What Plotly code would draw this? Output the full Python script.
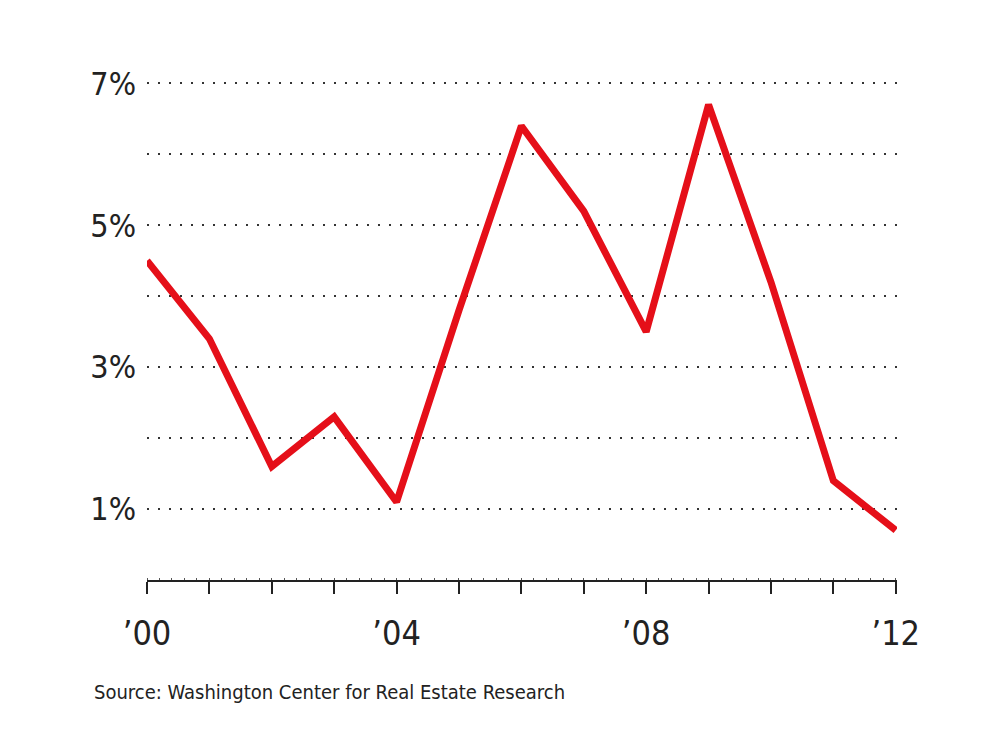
import plotly.graph_objects as go

years = list(range(2000, 2013))
rate = [4.5, 3.4, 1.6, 2.3, 1.1, 3.8, 6.4, 5.2, 3.5, 6.7, 4.2, 1.4, 0.7]

x_labels = ["\u201900", "", "", "", "\u201904", "", "", "", "\u201908", "", "", "", "\u201912"]
y_ticks = [1, 2, 3, 4, 5, 6, 7]
y_labels = ["1%", "", "3%", "", "5%", "", "7%"]

FONT = "DejaVu Sans Condensed, sans-serif"

fig = go.Figure()
fig.add_trace(go.Scatter(x=years, y=rate, mode="lines",
                         line=dict(color="#e50f19", width=7),
                         cliponaxis=False, hoverinfo="skip"))

fig.update_layout(
    width=1000, height=750,
    plot_bgcolor="white", paper_bgcolor="white",
    margin=dict(l=139, r=111, t=74, b=178),
    showlegend=False,
    font=dict(family=FONT, color="#222222"),
    xaxis=dict(range=[2000, 2012.02], tickvals=years, ticktext=x_labels,
               showgrid=False, zeroline=False,
               showline=True, linecolor="#222222", linewidth=2,
               ticks="outside", ticklen=12, tickwidth=2, tickcolor="#222222",
               ticklabelstandoff=10,
               tickfont=dict(size=34, family=FONT, color="#222222"),
               minor=dict(dtick=0.2, ticks="inside", ticklen=2, tickwidth=1,
                          tickcolor="#555555", showgrid=False)),
    yaxis=dict(range=[0, 7.02], tickvals=y_ticks, ticktext=y_labels,
               showgrid=True, gridcolor="#333333", gridwidth=2,
               griddash="2px,9px", zeroline=False, showline=False,
               ticks="", ticklabelstandoff=10,
               tickfont=dict(size=32, family=FONT, color="#222222")),
    annotations=[dict(text="Source: Washington Center for Real Estate Research",
                      xref="paper", yref="paper", x=-0.073, y=-0.225,
                      xanchor="left", yanchor="middle", showarrow=False,
                      font=dict(size=20, family=FONT, color="#222222"))],
)

fig.write_html("out.html")
